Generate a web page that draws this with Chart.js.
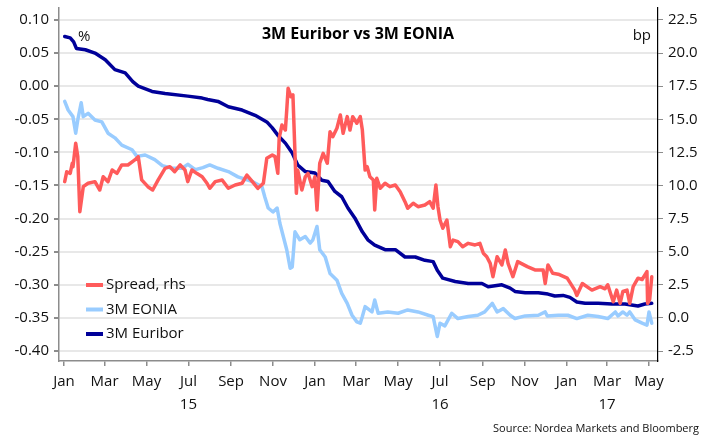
<!DOCTYPE html>
<html>
<head>
<meta charset="utf-8">
<script src="https://cdn.jsdelivr.net/npm/chart.js@4.4.1/dist/chart.umd.min.js"></script>
<style>
  html, body { margin: 0; padding: 0; background: #fff; }
  #wrap { width: 710px; height: 448px; }
</style>
</head>
<body>
<div id="wrap"><canvas id="c" width="710" height="448"></canvas></div>
<script>
// x values are days counted from 1 Jan 2015
const monthTickDays = [0, 59, 120, 181, 243, 304, 365, 425, 486, 547, 609, 670, 731, 790, 851];
const monthTickLabels = ['Jan', 'Mar', 'May', ['Jul', '15'], 'Sep', 'Nov', 'Jan', 'Mar', 'May', ['Jul', '16'], 'Sep', 'Nov', 'Jan', ['Mar', '17'], 'May'];
const leftTicks = [-0.40, -0.35, -0.30, -0.25, -0.20, -0.15, -0.10, -0.05, 0.00, 0.05, 0.10];
const rightTicks = [-2.5, 0.0, 2.5, 5.0, 7.5, 10.0, 12.5, 15.0, 17.5, 20.0, 22.5];

// 3M Euribor, %
const euriborDays = [1, 9, 14, 18, 31, 45, 60, 74, 89, 100, 108, 128, 147, 180, 201, 209, 224, 239, 259, 278, 295, 303, 311, 322, 332, 340, 351, 365, 375, 384, 394, 404, 413, 423, 434, 442, 452, 467, 482, 496, 511, 525, 537, 543, 551, 569, 588, 608, 617, 637, 649, 656, 671, 690, 704, 714, 726, 736, 746, 758, 777, 797, 816, 835, 845, 855];
const euriborVals = [0.075, 0.073, 0.067, 0.057, 0.055, 0.050, 0.040, 0.025, 0.020, 0.007, 0.000, -0.008, -0.011, -0.015, -0.018, -0.020, -0.023, -0.031, -0.036, -0.044, -0.054, -0.063, -0.074, -0.086, -0.101, -0.119, -0.129, -0.131, -0.142, -0.144, -0.159, -0.167, -0.184, -0.199, -0.220, -0.232, -0.240, -0.247, -0.247, -0.258, -0.258, -0.263, -0.265, -0.278, -0.290, -0.295, -0.298, -0.298, -0.303, -0.300, -0.305, -0.310, -0.312, -0.312, -0.314, -0.317, -0.316, -0.319, -0.326, -0.328, -0.328, -0.329, -0.329, -0.332, -0.329, -0.328];

// 3M EONIA, %
const eoniaDays = [1, 6, 13, 17, 20, 25, 28, 35, 45, 55, 64, 74, 84, 99, 106, 118, 132, 143, 157, 172, 180, 191, 202, 212, 224, 239, 253, 274, 288, 292, 297, 304, 310, 314, 319, 324, 329, 332, 336, 343, 351, 358, 362, 368, 372, 380, 387, 397, 404, 412, 419, 426, 431, 434, 438, 448, 452, 457, 471, 486, 500, 515, 530, 537, 543, 547, 554, 564, 573, 588, 602, 612, 623, 630, 639, 649, 656, 671, 690, 700, 703, 719, 733, 746, 762, 777, 791, 802, 806, 813, 819, 823, 831, 841, 848, 851, 855];
const eoniaVals = [-0.023, -0.036, -0.046, -0.071, -0.051, -0.025, -0.046, -0.041, -0.051, -0.054, -0.071, -0.078, -0.089, -0.096, -0.106, -0.104, -0.111, -0.120, -0.124, -0.124, -0.118, -0.126, -0.123, -0.119, -0.124, -0.129, -0.137, -0.144, -0.152, -0.167, -0.184, -0.190, -0.184, -0.207, -0.227, -0.247, -0.275, -0.273, -0.220, -0.232, -0.227, -0.237, -0.232, -0.212, -0.247, -0.258, -0.283, -0.293, -0.313, -0.328, -0.346, -0.356, -0.358, -0.348, -0.333, -0.341, -0.323, -0.343, -0.341, -0.343, -0.338, -0.341, -0.346, -0.348, -0.378, -0.358, -0.362, -0.343, -0.351, -0.348, -0.346, -0.341, -0.328, -0.341, -0.336, -0.346, -0.351, -0.347, -0.346, -0.341, -0.347, -0.346, -0.346, -0.351, -0.346, -0.348, -0.351, -0.341, -0.347, -0.341, -0.346, -0.341, -0.353, -0.358, -0.361, -0.341, -0.358];

// Spread, bp (rhs)
const spreadDays = [1, 4, 9, 12, 13, 17, 20, 23, 28, 35, 45, 52, 57, 64, 70, 77, 84, 93, 103, 108, 113, 122, 129, 137, 147, 154, 161, 169, 176, 180, 186, 193, 201, 208, 212, 220, 230, 239, 249, 259, 266, 274, 282, 290, 295, 303, 307, 311, 313, 317, 322, 324, 326, 330, 333, 338, 340, 346, 351, 355, 361, 365, 368, 372, 377, 383, 387, 391, 397, 402, 406, 412, 416, 420, 426, 431, 434, 435, 438, 441, 445, 450, 452, 455, 460, 467, 474, 482, 489, 496, 500, 508, 515, 525, 532, 537, 541, 544, 547, 551, 557, 562, 566, 573, 580, 588, 598, 605, 610, 615, 620, 624, 630, 637, 642, 646, 653, 660, 674, 685, 697, 700, 704, 711, 719, 732, 743, 746, 754, 768, 780, 787, 791, 799, 804, 809, 813, 819, 823, 828, 835, 841, 848, 849, 852, 855];
const spreadVals = [10.29, 11.04, 10.92, 11.68, 11.42, 13.19, 12.18, 8.02, 9.91, 10.17, 10.29, 9.66, 10.66, 10.29, 11.17, 10.92, 11.55, 11.55, 11.93, 12.18, 10.42, 9.91, 9.66, 10.42, 11.30, 11.42, 11.04, 11.55, 11.17, 10.29, 11.17, 10.92, 10.66, 10.17, 9.79, 10.29, 10.42, 9.79, 10.04, 10.17, 10.79, 10.29, 9.79, 10.17, 12.05, 12.30, 12.18, 10.92, 13.57, 14.57, 14.19, 15.70, 17.34, 16.71, 16.84, 9.41, 11.17, 9.66, 10.66, 10.92, 9.91, 10.66, 8.15, 11.68, 12.43, 11.68, 14.06, 13.69, 14.32, 15.33, 13.94, 15.20, 14.19, 15.20, 14.70, 15.20, 14.19, 13.44, 11.17, 11.42, 10.66, 10.42, 8.15, 10.54, 9.79, 10.17, 9.91, 10.04, 9.53, 8.78, 8.28, 8.66, 8.40, 8.53, 8.78, 8.28, 10.04, 8.40, 7.39, 6.77, 7.39, 5.38, 5.88, 5.76, 5.38, 5.63, 5.51, 5.63, 4.88, 4.62, 4.12, 3.11, 4.62, 4.00, 5.13, 4.12, 3.11, 4.25, 3.87, 3.62, 3.62, 2.60, 4.00, 3.37, 3.30, 3.00, 2.10, 1.70, 2.60, 2.10, 2.36, 2.20, 2.50, 1.22, 2.10, 1.10, 2.00, 2.10, 1.10, 2.36, 3.00, 2.90, 3.50, 1.10, 1.40, 3.10];

const FONT = '"Open Sans", "DejaVu Sans", sans-serif';
const TEXT = '#111';

function toPoints(days, vals) {
    return days.map((d, i) => ({ x: d, y: vals[i] }));
}

// 标题、单位、图例和来源
const overlay = {
    id: 'overlay',
    afterDraw(chart) {
        const c = chart.ctx;
        c.save();
        c.fillStyle = '#000';
        c.textBaseline = 'middle';
        c.font = 'bold 16px ' + FONT;
        c.textAlign = 'center';
        c.fillText('3M Euribor vs 3M EONIA', 358, 34);

        c.font = '15px ' + FONT;
        c.fillStyle = TEXT;
        c.textAlign = 'left';
        c.fillText('%', 78, 37);
        c.textAlign = 'right';
        c.fillText('bp', 651, 36);

        const items = [
            { label: 'Spread, rhs', color: '#ff5b5b' },
            { label: '3M EONIA', color: '#99ccff' },
            { label: '3M Euribor', color: '#000099' }
        ];
        c.textAlign = 'left';
        items.forEach((it, i) => {
            const y = 285 + i * 24.5;
            c.strokeStyle = it.color;
            c.lineWidth = 4;
            c.beginPath();
            c.moveTo(86, y);
            c.lineTo(103, y);
            c.stroke();
            c.fillStyle = TEXT;
            c.fillText(it.label, 106, y);
        });

        c.font = '11px ' + FONT;
        c.textAlign = 'right';
        c.fillStyle = TEXT;
        c.fillText('Source: Nordea Markets and Bloomberg', 699, 429);
        c.restore();
    }
};

function noPad(scale) {
    scale.paddingTop = 0;
    scale.paddingBottom = 0;
    scale.paddingLeft = 0;
    scale.paddingRight = 0;
}

new Chart(document.getElementById('c').getContext('2d'), {
    type: 'line',
    data: {
        datasets: [
            {
                label: 'Spread, rhs',
                data: toPoints(spreadDays, spreadVals),
                yAxisID: 'y2',
                borderColor: '#ff5b5b',
                borderWidth: 3.5
            },
            {
                label: '3M EONIA',
                data: toPoints(eoniaDays, eoniaVals),
                yAxisID: 'y',
                borderColor: '#99ccff',
                borderWidth: 3.5
            },
            {
                label: '3M Euribor',
                data: toPoints(euriborDays, euriborVals),
                yAxisID: 'y',
                borderColor: '#000099',
                borderWidth: 3.5
            }
        ]
    },
    options: {
        responsive: false,
        animation: false,
        devicePixelRatio: 1,
        layout: { padding: { top: 8, left: 0, right: 0, bottom: 0 } },
        elements: {
            point: { radius: 0 },
            line: { tension: 0, borderJoinStyle: 'round', borderCapStyle: 'round' }
        },
        plugins: {
            legend: { display: false },
            tooltip: { enabled: false }
        },
        scales: {
            x: {
                type: 'linear',
                min: -7.3,
                max: 864.1,
                afterBuildTicks: s => { s.ticks = monthTickDays.map(v => ({ value: v })); },
                afterFit: s => { s.height = 87; noPad(s); },
                border: { color: '#8c8c8c', width: 1.5 },
                grid: { drawOnChartArea: false, tickColor: '#8c8c8c', tickLength: 5, lineWidth: 1.5 },
                ticks: {
                    autoSkip: false,
                    maxRotation: 0,
                    padding: 4,
                    color: TEXT,
                    font: { family: FONT, size: 15, lineHeight: 1.55 },
                    callback: (v, i) => monthTickLabels[i]
                }
            },
            y: {
                position: 'left',
                min: -0.4151,
                max: 0.1181,
                afterBuildTicks: s => { s.ticks = leftTicks.map(v => ({ value: v })); },
                afterFit: s => { s.width = 59; noPad(s); },
                border: { color: '#8c8c8c', width: 1.5 },
                grid: { color: '#e8e8e8', lineWidth: 2, tickColor: '#8c8c8c', tickLength: 5 },
                ticks: {
                    padding: 5,
                    color: TEXT,
                    font: { family: FONT, size: 15 },
                    callback: v => v.toFixed(2)
                }
            },
            y2: {
                position: 'right',
                min: -3.255,
                max: 23.406,
                afterBuildTicks: s => { s.ticks = rightTicks.map(v => ({ value: v })); },
                afterFit: s => { s.width = 52; noPad(s); },
                border: { color: '#000', width: 1.2 },
                grid: { drawOnChartArea: false, tickColor: '#8c8c8c', tickLength: 5 },
                ticks: {
                    padding: 5,
                    color: TEXT,
                    font: { family: FONT, size: 15 },
                    callback: v => v.toFixed(1)
                }
            }
        }
    },
    plugins: [overlay]
});
</script>
</body>
</html>
